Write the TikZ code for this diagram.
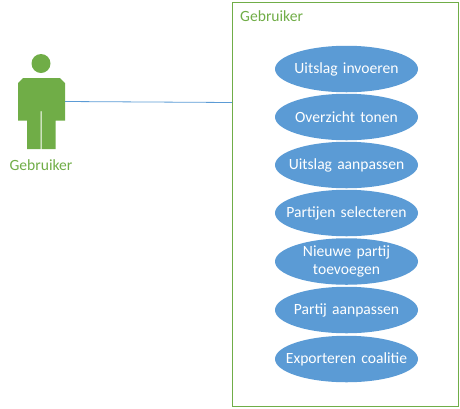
\documentclass[tikz,border=0pt]{standalone}
\usepackage{fontspec}
\setmainfont{Carlito}
\usetikzlibrary{shapes.geometric}
\definecolor{officegreen}{HTML}{70AD47}
\definecolor{officeblue}{HTML}{5B9BD5}
\tikzset{
  usecase/.style={ellipse,fill=officeblue,text=white,minimum width=143pt,minimum height=46.5pt,
    text width=125pt,inner xsep=-25pt,inner ysep=-6pt,align=center,font=\fontsize{15.6}{18}\selectfont},
  greenlabel/.style={text=officegreen,inner sep=0pt,font=\fontsize{15.6}{18}\selectfont},
}
\begin{document}
\begin{tikzpicture}[x=1pt,y=-1pt]
      \useasboundingbox (0,0) rectangle (460,408);
      \draw
        (345,204) node[draw=officegreen,line width=0.9pt,minimum width=226pt,minimum height=404pt,inner sep=0pt] (systeem){}
        (240,16) node[greenlabel,anchor=west] (systeemnaam){Gebruiker}
        (346.5,69) node[usecase] (invoeren){Uitslag invoeren}
        (346.5,117) node[usecase] (overzicht){Overzicht tonen}
        (346.5,165) node[usecase] (aanpassen){Uitslag aanpassen}
        (346.5,213) node[usecase] (selecteren){Partijen selecteren}
        (346.5,261.5) node[usecase] (toevoegen){Nieuwe partij\\toevoegen}
        (346.5,310) node[usecase] (partij){Partij aanpassen}
        (346.5,359) node[usecase] (exporteren){Exporteren coalitie}
        (41,165) node[greenlabel] (actornaam){Gebruiker};
      % actor
      \fill[officegreen] (41,63.5) circle (9.5);
      \fill[officegreen] (23,78) -- (60,78) -- (65,83) -- (65,120.5) -- (55.7,120.5) -- (55.7,149)
        -- (41.7,149) -- (41.7,111) -- (40.7,111) -- (40.7,149) -- (27,149) -- (27,120.5)
        -- (18,120.5) -- (18,83) -- cycle;
      \coordinate (arm) at (65,101.5);
      \coordinate (rand) at (232,102.5);
      \draw[officeblue,line width=0.8pt] (arm) to (rand);
    \end{tikzpicture}
\end{document}
